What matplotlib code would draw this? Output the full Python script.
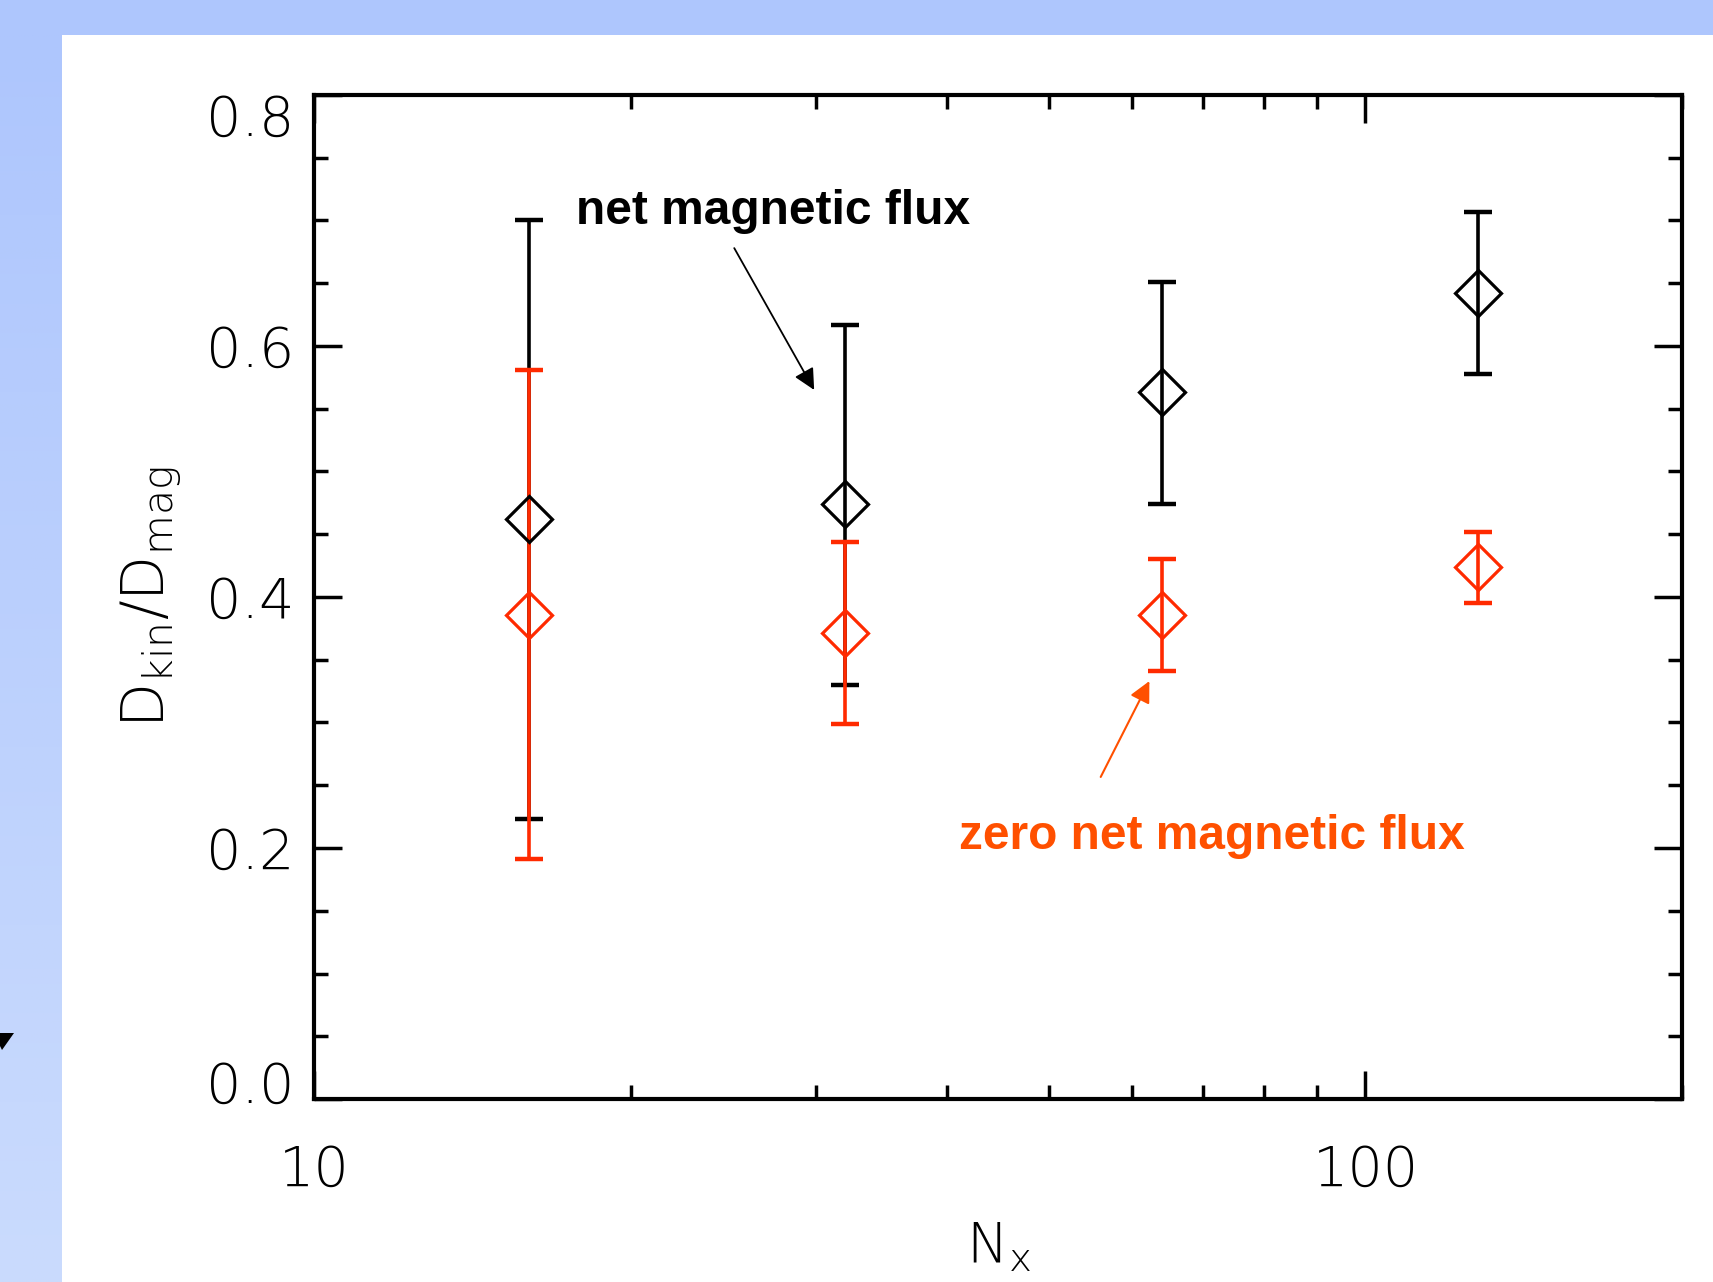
import numpy as np
import matplotlib
matplotlib.use("Agg")
import matplotlib.pyplot as plt
import matplotlib.transforms as mtransforms
from matplotlib.patches import Polygon
from matplotlib.ticker import FixedLocator, NullFormatter, LogLocator

# data
nx = [16, 32, 64, 128]

net_flux = [0.462, 0.474, 0.563, 0.642]
net_lo = [0.223, 0.330, 0.474, 0.578]
net_hi = [0.700, 0.617, 0.651, 0.707]

zero_flux = [0.386, 0.371, 0.386, 0.424]
zero_lo = [0.191, 0.299, 0.341, 0.395]
zero_hi = [0.581, 0.444, 0.430, 0.452]

y_ticks = [0.0, 0.2, 0.4, 0.6, 0.8]
y_ticklabels = ['0.0', '0.2', '0.4', '0.6', '0.8']
x_ticks = [10, 100]
x_ticklabels = ['10', '100']

RED = '#ff2a00'
ORANGE = '#ff5000'
TICKFONT = 'DejaVu Sans'
TICKWEIGHT = 'light'

W, H = 1713, 1282
fig = plt.figure(figsize=(W / 100, H / 100), dpi=100)
fig.patch.set_facecolor('#aec6fd')

# slide background: blue frame with a vertical gradient on the left strip
bg = fig.add_axes([0, 0, 1, 1], zorder=-10)
bg.set_xlim(0, W)
bg.set_ylim(H, 0)
bg.axis('off')
top_col = np.array([174, 198, 253]) / 255
bot_col = np.array([202, 219, 253]) / 255
t = np.linspace(0, 1, 256)[:, None]
grad = (top_col[None, :] * (1 - t) + bot_col[None, :] * t)[:, None, :]
bg.imshow(grad, extent=[0, 62, H, 35], aspect='auto', interpolation='bilinear')
bg.add_patch(plt.Rectangle((62, 35), W - 62, H - 35, color='white', lw=0))
bg.add_patch(Polygon([(0, 1033), (14, 1033), (2, 1050), (0, 1046)], closed=True,
                     color='black', lw=0))

ax = fig.add_axes([314 / W, 1 - 1099 / H, (1682 - 314) / W, (1099 - 95) / H])
ax.set_facecolor('none')
ax.set_xscale('log')
ax.set_xlim(10, 200)
ax.set_ylim(0, 0.8)

def draw_series(y, lo, hi, color):
    y = np.array(y)
    err = [y - np.array(lo), np.array(hi) - y]
    ax.errorbar(nx, y, yerr=err, fmt='none', ecolor=color, elinewidth=2.6,
                capsize=10, capthick=3.2, zorder=3)
    ax.plot(nx, y, linestyle='none', marker='D', markersize=23,
            markerfacecolor='none', markeredgecolor=color, markeredgewidth=2.3,
            zorder=4)

draw_series(net_flux, net_lo, net_hi, 'black')
draw_series(zero_flux, zero_lo, zero_hi, RED)

# axes styling
for s in ax.spines.values():
    s.set_linewidth(3)
ax.yaxis.set_major_locator(FixedLocator(y_ticks))
ax.yaxis.set_minor_locator(FixedLocator(np.arange(0, 0.81, 0.05)))
ax.set_yticklabels(y_ticklabels)
ax.xaxis.set_major_locator(FixedLocator(x_ticks))
ax.xaxis.set_minor_locator(LogLocator(base=10, subs=np.arange(2, 10)))
ax.xaxis.set_minor_formatter(NullFormatter())
ax.set_xticklabels(x_ticklabels)
ax.tick_params(which='both', direction='in', top=True, right=True, width=2.5)
ax.tick_params(which='major', length=20)
ax.tick_params(which='minor', length=10)
ax.tick_params(axis='y', which='major', pad=14)
ax.tick_params(axis='x', which='major', pad=32)
for lab in ax.get_xticklabels() + ax.get_yticklabels():
    lab.set_fontfamily(TICKFONT)
    lab.set_fontweight(TICKWEIGHT)
    lab.set_fontsize(40)

# IDL-style labels: the end labels sit inside the axis range
ylabs = ax.get_yticklabels()
ylabs[0].set_transform(ylabs[0].get_transform() +
                       mtransforms.ScaledTranslation(0, 17 / 100, fig.dpi_scale_trans))
ylabs[-1].set_transform(ylabs[-1].get_transform() +
                        mtransforms.ScaledTranslation(0, -20 / 100, fig.dpi_scale_trans))

ax.set_ylabel(r'$\mathregular{D_{kin}/D_{mag}}$', fontfamily=TICKFONT,
              fontweight=TICKWEIGHT, fontsize=42, labelpad=16)
ax.set_xlabel(r'$\mathregular{N_x}$', fontfamily=TICKFONT, fontweight=TICKWEIGHT,
              fontsize=40, labelpad=16)

# annotations
ax.annotate('', xy=(29.9, 0.565), xytext=(25.1, 0.678),
            arrowprops=dict(arrowstyle='-|>', color='black', lw=1.3,
                            mutation_scale=32, shrinkA=0, shrinkB=0))
ax.text(17.74, 0.707, 'net magnetic flux', fontfamily='Liberation Sans',
        fontweight='bold', fontsize=34.5, color='black', va='center', ha='left')

ax.annotate('', xy=(62.3, 0.333), xytext=(56.0, 0.2566),
            arrowprops=dict(arrowstyle='-|>', color=ORANGE, lw=1.5,
                            mutation_scale=32, shrinkA=0, shrinkB=0))
ax.text(41.1, 0.2090, 'zero net magnetic flux', fontfamily='Liberation Sans',
        fontweight='bold', fontsize=34.5, color=ORANGE, va='center', ha='left')

fig.savefig('out.png', dpi=100, facecolor=fig.get_facecolor())
